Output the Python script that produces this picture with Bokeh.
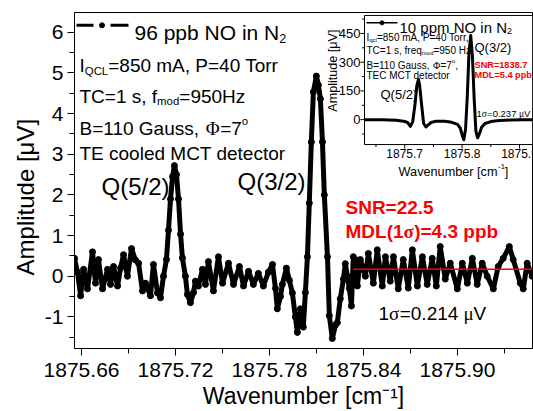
import math
from bokeh.plotting import figure
from bokeh.models import Range1d, FixedTicker, PrintfTickFormatter, Label
from bokeh.embed import file_html
from bokeh.resources import INLINE

# ---------------- data ----------------
wavenumber = [1875.6555, 1875.6574, 1875.6594, 1875.6613, 1875.6638, 1875.6670, 1875.6689, 1875.6708, 1875.6734, 1875.6766,
              1875.6785, 1875.6804, 1875.6830, 1875.6849, 1875.6868, 1875.6893, 1875.6919, 1875.6944, 1875.6964, 1875.6989,
              1875.7008, 1875.7040, 1875.7059, 1875.7085, 1875.7104, 1875.7123, 1875.7142, 1875.7155, 1875.7168, 1875.7181,
              1875.7193, 1875.7206, 1875.7219, 1875.7232, 1875.7244, 1875.7263, 1875.7276, 1875.7295, 1875.7315, 1875.7327,
              1875.7346, 1875.7372, 1875.7391, 1875.7410, 1875.7442, 1875.7474, 1875.7500, 1875.7538, 1875.7570, 1875.7608,
              1875.7634, 1875.7666, 1875.7697, 1875.7729, 1875.7761, 1875.7793, 1875.7819, 1875.7838, 1875.7850, 1875.7870,
              1875.7882, 1875.7908, 1875.7927, 1875.7946, 1875.7965, 1875.7978, 1875.7997, 1875.8016, 1875.8029, 1875.8042,
              1875.8054, 1875.8067, 1875.8080, 1875.8099, 1875.8112, 1875.8125, 1875.8138, 1875.8150, 1875.8170, 1875.8182,
              1875.8201, 1875.8221, 1875.8233, 1875.8252, 1875.8272, 1875.8284, 1875.8297, 1875.8310, 1875.8323, 1875.8335,
              1875.8348, 1875.8361, 1875.8380, 1875.8412, 1875.8431, 1875.8463, 1875.8488, 1875.8520, 1875.8540, 1875.8571,
              1875.8591, 1875.8622, 1875.8654, 1875.8686, 1875.8712, 1875.8744, 1875.8776, 1875.8807, 1875.8839, 1875.8865,
              1875.8890, 1875.8922, 1875.8954, 1875.8999, 1875.9031, 1875.9063, 1875.9095, 1875.9126, 1875.9158, 1875.9190,
              1875.9229, 1875.9260, 1875.9292, 1875.9331, 1875.9356, 1875.9401, 1875.9420, 1875.9445, 1875.9477]
amplitude = [0.44, 0.10, -0.48, 0.17, -0.31, 0.60, -0.17, 0.41, -0.31, 0.17,
             -0.20, 0.24, -0.24, 0.20, 0.53, 0.00, 0.68, 0.40, 0.32, -0.36,
             -0.17, -0.48, 0.29, -0.41, -0.53, 0.00, 0.41, 1.13, 1.90, 2.45,
             2.72, 2.50, 1.90, 1.04, 0.45, 0.00, -0.45, -0.65, -0.40, -0.12,
             -0.24, 0.17, -0.20, 0.36, -0.36, 0.48, -0.17, 0.32, -0.20, 0.24,
             -0.24, 0.12, -0.20, 0.07, -0.24, 0.10, 0.29, -0.30, -0.80, -0.50,
             -0.20, 0.20, -0.10, -0.41, -1.00, -1.38, -0.80, -1.25, -0.40, 0.48,
             1.80, 3.30, 4.53, 4.92, 4.70, 4.36, 3.30, 2.00, 0.48, -0.97,
             -1.53, -1.20, -1.14, -0.55, -0.07, 0.31, 0.00, -0.30, -0.73, 0.48,
             0.41, -0.24, 0.41, 0.00, 0.56, -0.17, 0.65, -0.24, 0.48, -0.12,
             0.48, -0.31, 0.41, -0.29, 0.65, -0.24, 0.48, -0.20, 0.44, -0.24,
             0.73, -0.07, 0.32, -0.31, 0.32, -0.17, 0.44, -0.20, 0.32, 0.00,
             -0.31, 0.24, 0.44, 0.73, 0.41, -0.17, -0.31, 0.32, 0.00]
noise_level_x = [1875.8335, 1875.9479]
noise_level_y = [0.17, 0.17]

inset_wavenumber = [1875.630, 1875.660, 1875.685, 1875.698, 1875.705, 1875.710, 1875.714, 1875.718, 1875.721, 1875.724,
                    1875.726, 1875.729, 1875.733, 1875.737, 1875.740, 1875.746, 1875.755, 1875.770, 1875.782, 1875.792,
                    1875.797, 1875.800, 1875.803, 1875.806, 1875.809, 1875.812, 1875.815, 1875.818, 1875.821, 1875.824,
                    1875.827, 1875.830, 1875.834, 1875.840, 1875.850, 1875.865, 1875.885, 1875.905, 1875.923]
inset_amplitude = [0, 0, -3, -8, -15, -35, -10, 80, 175, 210,
                   180, 90, -20, -38, -30, -15, -8, -8, -14, -25,
                   -45, -80, -105, -50, 120, 350, 440, 330, 110, -60,
                   -95, -75, -40, -20, -10, -5, -2, -1, 0]

x_ticks = [1875.66, 1875.72, 1875.78, 1875.84, 1875.90]
x_minor = [1875.69, 1875.75, 1875.81, 1875.87, 1875.93]
y_ticks = [-1, 0, 1, 2, 3, 4, 5, 6]
y_minor = [-1.5, -0.5, 0.5, 1.5, 2.5, 3.5, 4.5, 5.5]
inset_x_ticks = [1875.7, 1875.8, 1875.9]
inset_x_labels = ["1875.7", "1875.8", "1875.9"]
inset_x_minor = [1875.65, 1875.75, 1875.85]
inset_y_ticks = [0, 150, 300, 450]
inset_y_labels = ["0", "150", "300", "450"]
inset_y_minor = [-75, 75, 225, 375, 525]

# ---------------- layout (picture pixels) ----------------
W, H = 533, 411
FL, FR, FT, FB = 74, 532, 12, 353
X0, X1 = 1875.6555, 1875.9479
Y0, Y1 = -1.776, 6.484
IL, IR, IT, IB = 364, 532, 15, 146
IX0, IX1 = 1875.630, 1875.9226
IY0, IY1 = -130.0, 544.0
RED = "#ff0000"
SANS = "Liberation Sans"
SERIF = "Liberation Serif"


def X(px):
    return X0 + (px - FL) * (X1 - X0) / (FR - FL)


def Y(py):
    return Y1 - (py - FT) * (Y1 - Y0) / (FB - FT)


def ipx(v):
    return IL + (v - IX0) / (IX1 - IX0) * (IR - IL)


def ipy(v):
    return IB - (v - IY0) / (IY1 - IY0) * (IB - IT)


sx_i = (IX1 - IX0) / (IR - IL)
sy_i = (IY1 - IY0) / (IB - IT)

p = figure(width=W, height=H, x_range=Range1d(X0, X1), y_range=Range1d(Y0, Y1),
           output_backend="svg", toolbar_location=None, title=None,
           min_border_left=FL, min_border_right=W - FR,
           min_border_top=FT, min_border_bottom=H - FB)
p.extra_x_ranges = {"ix": Range1d(IX0 - (IL - FL) * sx_i, IX1 + (FR - IR) * sx_i)}
p.extra_y_ranges = {"iy": Range1d(IY0 - (FB - IB) * sy_i, IY1 + (IT - FT) * sy_i)}

p.xgrid.visible = False
p.ygrid.visible = False
p.outline_line_color = "black"
p.outline_line_width = 1
p.background_fill_color = "white"
p.border_fill_color = "white"

p.xaxis.ticker = FixedTicker(ticks=x_ticks, minor_ticks=x_minor)
p.yaxis.ticker = FixedTicker(ticks=y_ticks, minor_ticks=y_minor)
p.xaxis.formatter = PrintfTickFormatter(format="%.2f")
p.yaxis.formatter = PrintfTickFormatter(format="%d")
for ax in (p.xaxis, p.yaxis):
    ax.axis_line_color = "black"
    ax.major_tick_line_color = "black"
    ax.minor_tick_line_color = "black"
    ax.major_tick_out = 7
    ax.major_tick_in = 0
    ax.minor_tick_out = 5
    ax.minor_tick_in = 0
    ax.major_label_text_font = SANS
    ax.major_label_text_font_size = "21px"
    ax.major_label_text_color = "black"
    ax.axis_label_text_font = SANS
    ax.axis_label_text_font_style = "normal"
    ax.axis_label_text_color = "black"
p.xaxis.major_label_standoff = 7
p.yaxis.major_label_standoff = 4
p.xaxis.axis_label = "Wavenumber [cm\u207b\u00b9]"
p.xaxis.axis_label_text_font_size = "23px"
p.xaxis.axis_label_standoff = 3
p.yaxis.axis_label = "Amplitude [\u03bcV]" + "\u00a0" * 5
p.yaxis.axis_label_text_font_size = "24px"
p.yaxis.axis_label_standoff = 3

# ---------------- main data ----------------
p.line(wavenumber, amplitude, line_color="black", line_width=5, line_join="round")
p.scatter(wavenumber, amplitude, size=6, color="black")
p.line(noise_level_x, noise_level_y, line_color=RED, line_width=1.5)

# main legend sample (dash - dot - dash)
p.segment(x0=[X(76), X(110)], x1=[X(93), X(128)], y0=[Y(25), Y(25)], y1=[Y(25), Y(25)],
          line_color="black", line_width=3)
p.scatter([X(101.5)], [Y(25)], size=5, color="black")

# ---------------- inset ----------------
p.quad(left=[IX0], right=[IX1], bottom=[IY0], top=[IY1], x_range_name="ix", y_range_name="iy",
       fill_color="white", line_color="black", line_width=1)
p.line(inset_wavenumber, inset_amplitude, x_range_name="ix", y_range_name="iy",
       line_color="black", line_width=3, line_join="round")
p.segment(x0=inset_x_ticks, x1=inset_x_ticks, y0=[IY0] * len(inset_x_ticks),
          y1=[IY0 - 4 * sy_i] * len(inset_x_ticks), x_range_name="ix", y_range_name="iy",
          line_color="black", line_width=1)
p.segment(x0=inset_x_minor, x1=inset_x_minor, y0=[IY0] * len(inset_x_minor),
          y1=[IY0 - 2.5 * sy_i] * len(inset_x_minor), x_range_name="ix", y_range_name="iy",
          line_color="black", line_width=1)
p.segment(x0=[IX0] * len(inset_y_ticks), x1=[IX0 - 4 * sx_i] * len(inset_y_ticks),
          y0=inset_y_ticks, y1=inset_y_ticks, x_range_name="ix", y_range_name="iy",
          line_color="black", line_width=1)
p.segment(x0=[IX0] * len(inset_y_minor), x1=[IX0 - 2.5 * sx_i] * len(inset_y_minor),
          y0=inset_y_minor, y1=inset_y_minor, x_range_name="ix", y_range_name="iy",
          line_color="black", line_width=1)
# inset legend sample
p.segment(x0=[X(366)], x1=[X(397)], y0=[Y(22.5)], y1=[Y(22.5)], line_color="black", line_width=1.5)
p.scatter([X(381.5)], [Y(22.5)], size=4, color="black")

# ---------------- text helpers ----------------
REG = {' ': 278, '!': 278, '(': 333, ')': 333, ',': 278, '-': 333, '.': 278, '/': 278, '=': 584,
       '[': 278, ']': 278, 'A': 667, 'B': 667, 'C': 722, 'D': 722, 'E': 667, 'F': 611, 'G': 778,
       'H': 722, 'I': 278, 'L': 556, 'M': 833, 'N': 722, 'O': 778, 'P': 667, 'Q': 778, 'R': 722,
       'S': 667, 'T': 611, 'V': 667, 'W': 944, 'a': 556, 'b': 556, 'c': 500, 'd': 556, 'e': 556,
       'f': 278, 'g': 556, 'h': 556, 'i': 222, 'l': 222, 'm': 833, 'n': 556, 'o': 556, 'p': 556,
       'q': 556, 'r': 333, 's': 500, 't': 278, 'u': 556, 'v': 500, 'z': 500}
BOLD = {' ': 278, '(': 333, ')': 333, '.': 278, '=': 584, 'S': 667, 'N': 722, 'R': 722, 'M': 833,
        'D': 722, 'L': 611, 'p': 611, 'b': 611}
SER = {'Φ': 760, 'σ': 560, 'μ': 520}


def cw(ch, bold, serif):
    if serif:
        return SER.get(ch, 500)
    if ch.isdigit():
        return 556
    if bold:
        return BOLD.get(ch, REG.get(ch, 556) * 1.05)
    return REG.get(ch, 556)


def tw(text, size, bold=False, serif=False):
    return sum(cw(c, bold, serif) for c in text) * size / 1000.0


def seg_size(mode, size):
    if mode == "n":
        return size, 0.0
    if mode == "sub":
        return size * 0.6, size * 0.28
    return size * 0.6, -size * 0.42


def rich(px, py, segs, size, color="black", bold=False, center=False):
    if center:
        total = 0.0
        for s in segs:
            sz, _ = seg_size(s[1], size)
            total += tw(s[0], sz, bold, len(s) > 2)
        px = px - total / 2.0
    x = px
    for s in segs:
        text, mode = s[0], s[1]
        serif = len(s) > 2
        sz, dy = seg_size(mode, size)
        p.add_layout(Label(x=X(x), y=Y(py + dy), text=text,
                           text_font=SERIF if serif else SANS,
                           text_font_size=f"{sz:.1f}px", text_color=color,
                           text_font_style="bold" if bold else "normal",
                           text_align="left", text_baseline="alphabetic"))
        x += tw(text, sz, bold, serif)


# main texts
rich(134, 32, [("96 ppb NO in N", "n"), ("2", "sub")], 21)
rich(79, 66, [("I", "n"), ("QCL", "sub"), ("=850 mA, P=40 Torr", "n")], 19)
rich(79, 97, [("TC=1 s, f", "n"), ("mod", "sub"), ("=950Hz", "n")], 19)
rich(79, 130, [("B=110 Gauss, ", "n"), ("Φ", "n", 1), ("=7", "n"), ("o", "sup")], 19)
rich(79, 155, [("TE cooled MCT detector", "n")], 19)
rich(101, 189, [("Q(5/2)", "n")], 24)
rich(237, 184, [("Q(3/2)", "n")], 24)
rich(345, 210, [("SNR=22.5", "n")], 19, RED, True)
rich(345, 234, [("MDL(1", "n"), ("σ", "n", 1), (")=4.3 ppb", "n")], 19, RED, True)
rich(378, 317, [("1", "n"), ("σ", "n", 1), ("=0.214 ", "n"), ("μ", "n", 1), ("V", "n")], 19)

# inset texts
rich(399, 27, [("10 ppm NO in N", "n"), ("2", "sub")], 15)
rich(366, 37.5, [("I", "n"), ("qcl", "sub"), ("=850 mA, P=40 Torr,", "n")], 10)
rich(366, 50.5, [("TC=1 s, freq", "n"), ("mod", "sub"), ("=950 Hz,", "n")], 10)
rich(366, 65.5, [("B=110 Gauss, ", "n"), ("Φ", "n", 1), ("=7", "n"), ("o", "sup"), (" ,", "n")], 10)
rich(366, 75.5, [("TEC MCT detector", "n")], 10)
rich(380, 95, [("Q(5/2)", "n")], 13)
rich(474, 48, [("Q(3/2)", "n")], 13)
rich(474, 65.5, [("SNR=1838.7", "n")], 9.2, RED, True)
rich(474, 75.5, [("MDL=5.4 ppb", "n")], 9.2, RED, True)
rich(476, 115, [("1", "n"), ("σ", "n", 1), ("=0.237 ", "n"), ("μ", "n", 1), ("V", "n")], 9.5)
rich(453, 174, [("Wavenumber [cm", "n"), ("-1", "sup"), ("]", "n")], 12.7, center=True)
p.add_layout(Label(x=X(332), y=Y(71), text="Amplitude [\u03bcV]", angle=math.pi / 2,
                   text_font=SANS, text_font_size="12.6px", text_color="black",
                   text_align="center", text_baseline="middle"))
for v, t in zip(inset_x_ticks, inset_x_labels):
    p.add_layout(Label(x=X(ipx(v)), y=Y(155), text=t, text_font=SANS, text_font_size="12px",
                       text_color="black", text_align="center", text_baseline="middle"))
for v, t in zip(inset_y_ticks, inset_y_labels):
    p.add_layout(Label(x=X(360), y=Y(ipy(v)), text=t, text_font=SANS, text_font_size="13px",
                       text_color="black", text_align="right", text_baseline="middle"))

open("out.html", "w").write(file_html(p, INLINE))
